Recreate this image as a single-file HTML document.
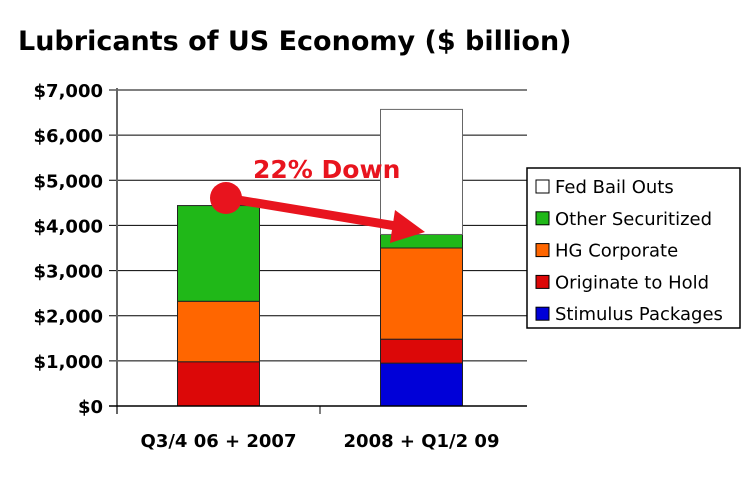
<!DOCTYPE html>
<html><head><meta charset="utf-8"><style>
body{margin:0;background:#fff;width:756px;height:476px;overflow:hidden}
svg text{font-family:"DejaVu Sans","Liberation Sans",sans-serif}
</style></head><body>
<svg id="c" width="756" height="476" xmlns="http://www.w3.org/2000/svg">
<text x="18" y="50" font-size="27" font-weight="bold" fill="#000">Lubricants of US Economy ($ billion)</text>
<g id="grid"></g><g id="bars"></g><g id="axes"></g>
<g>
<line x1="226" y1="198" x2="402" y2="227" stroke="#e8141e" stroke-width="9"/>
<polygon points="425,232 395,210 390,243" fill="#e8141e"/>
<circle cx="226" cy="198" r="16" fill="#e8141e"/>
</g>
<text x="253" y="178" font-size="25" font-weight="bold" fill="#e8141e">22% Down</text>
<g id="legend"></g>
</svg>
<script>
const categories=["Q3/4 06 + 2007","2008 + Q1/2 09"];
const seriesNames=["Stimulus Packages","Originate to Hold","HG Corporate","Other Securitized","Fed Bail Outs"];
const colors=["#0000d8","#dc0808","#ff6600","#20b818","#ffffff"];
const stimulus=[0,950];
const originate=[980,530];
const hgCorporate=[1340,2020];
const otherSecuritized=[2120,300];
const fedBailOuts=[0,2770];
const yTicks=[0,1000,2000,3000,4000,5000,6000,7000];
const yTickLabels=["$0","$1,000","$2,000","$3,000","$4,000","$5,000","$6,000","$7,000"];
const series=[stimulus,originate,hgCorporate,otherSecuritized,fedBailOuts];
const NS="http://www.w3.org/2000/svg";
const X0=117,X1=523,Y0=406,Y1=90,YMAX=7000;
const y=v=>Y0-(v/YMAX)*(Y0-Y1);
const bw=(X1-X0)/categories.length;
const xc=i=>X0+bw*(i+0.5);
function mk(tag,attrs,parent){const e=document.createElementNS(NS,tag);for(const k in attrs)e.setAttribute(k,attrs[k]);parent.appendChild(e);return e;}
const grid=document.getElementById('grid'),bars=document.getElementById('bars'),axes=document.getElementById('axes'),legend=document.getElementById('legend');
yTicks.forEach((t,i)=>{
 const l=mk('line',{x1:X0-8,x2:527,y1:y(t),y2:y(t),stroke:'#000','stroke-width':1},grid);
 
 
 const tx=mk('text',{x:X0-14,y:y(t)+7,'text-anchor':'end','font-size':18,'font-weight':'bold'},axes);
 tx.textContent=yTickLabels[i];
 
 
});
mk('line',{x1:X0,x2:X0,y1:Y1-2,y2:Y0+8,stroke:'#666','stroke-width':2},axes);
mk('line',{x1:X0-8,x2:527,y1:Y0,y2:Y0,stroke:'#000','stroke-width':1.5},axes);
mk('line',{x1:X0+bw,x2:X0+bw,y1:Y0,y2:Y0+8,stroke:'#000','stroke-width':1},axes);
categories.forEach((c,i)=>{
 let base=0;
 series.forEach((s,k)=>{
  const v=s[i];
  if(v>0){
   const r=mk('rect',{x:xc(i)-41,width:82,y:y(base+v),height:y(base)-y(base+v),fill:colors[k],stroke:k==4?'#666':'#222','stroke-width':1},bars);
   
   
  }
  base+=v;
 });
 const t=mk('text',{x:xc(i),y:447,'text-anchor':'middle','font-size':18,'font-weight':'bold'},axes);
 t.textContent=c;
 
 
});
mk('rect',{x:527,y:168,width:213,height:160,fill:'#fff',stroke:'#000','stroke-width':1.5},legend);
for(let k=4;k>=0;k--){
 const yy=187+(4-k)*31.8;
 const g=mk('g',{},legend);
 
 
 mk('rect',{x:536,y:yy-7,width:13,height:13,fill:colors[k],stroke:'#000'},g);
 const t=mk('text',{x:555,y:yy+6,'font-size':18,'font-weight':'normal'},g);
 t.textContent=seriesNames[k];
}
</script>
</body></html>
